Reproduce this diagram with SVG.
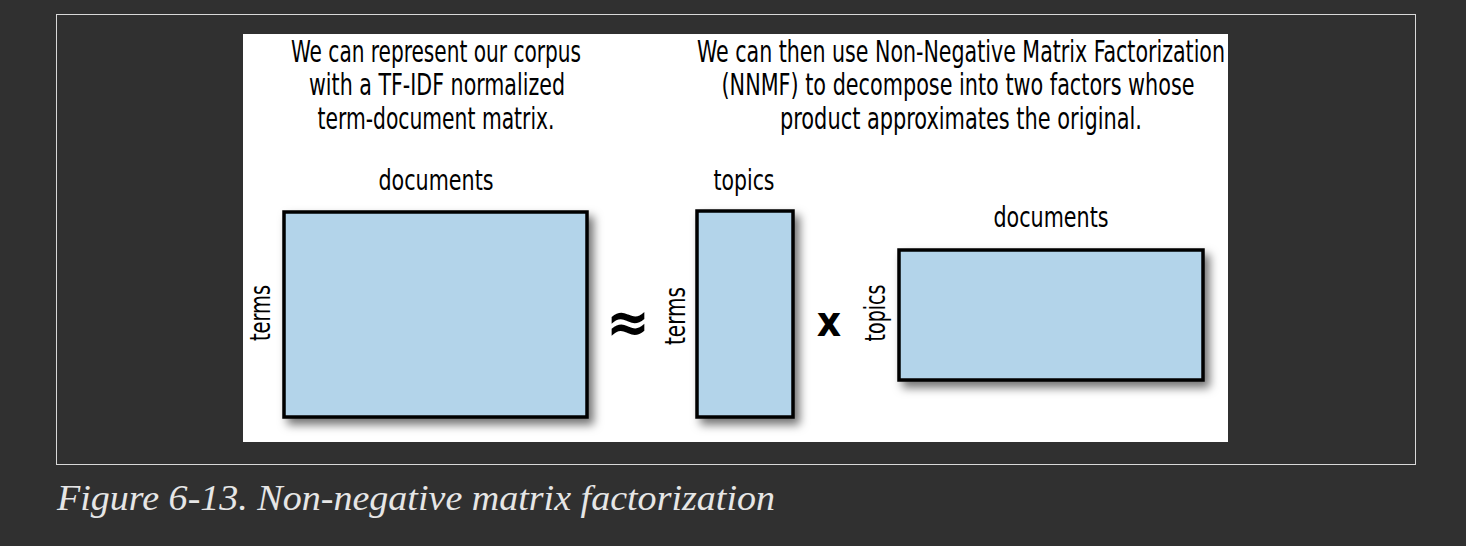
<svg xmlns="http://www.w3.org/2000/svg" width="1466" height="546" viewBox="0 0 1466 546">
<style>
.t{font-family:"Liberation Sans Narrow","DejaVu Sans Condensed","Liberation Sans",sans-serif;fill:#000;text-anchor:middle}
.h{font-size:30px}
.l{font-size:28px}
.m{fill:#b3d4ea;stroke:#000;stroke-width:3.5}
.cap{font-family:"Liberation Serif","Times New Roman",serif;font-style:italic;font-size:36px;fill:#e6e6e6}
</style>
<defs>
<filter id="sh" x="-10%" y="-10%" width="130%" height="130%">
<feDropShadow dx="5" dy="6" stdDeviation="5" flood-color="#000" flood-opacity="0.55"/>
</filter>
</defs>
<rect width="1466" height="546" fill="#303030"/>
<rect x="56.5" y="14.5" width="1359" height="450" fill="none" stroke="#d8d8d8" stroke-width="1"/>
<rect x="243" y="34" width="985" height="408" fill="#fff"/>
<g id="caption">
<text class="cap" x="57" y="510" textLength="718" lengthAdjust="spacingAndGlyphs">Figure 6-13. Non-negative matrix factorization</text>
</g>
<g id="text-left">
<text class="t h" x="436" y="62" textLength="290" lengthAdjust="spacingAndGlyphs">We can represent our corpus</text>
<text class="t h" x="437" y="95" textLength="256" lengthAdjust="spacingAndGlyphs">with a TF-IDF normalized</text>
<text class="t h" x="436" y="129" textLength="237" lengthAdjust="spacingAndGlyphs">term-document matrix.</text>
</g>
<g id="text-right">
<text class="t h" x="961" y="62" textLength="528" lengthAdjust="spacingAndGlyphs">We can then use Non-Negative Matrix Factorization</text>
<text class="t h" x="958" y="95" textLength="473" lengthAdjust="spacingAndGlyphs">(NNMF) to decompose into two factors whose</text>
<text class="t h" x="961" y="129" textLength="362" lengthAdjust="spacingAndGlyphs">product approximates the original.</text>
</g>
<g id="matrix-tdm">
<rect class="m" x="284" y="212" width="303" height="205" filter="url(#sh)"/>
<text class="t l" x="436" y="190" textLength="115" lengthAdjust="spacingAndGlyphs">documents</text>
<text class="t l" transform="translate(270,313) rotate(-90)" textLength="56" lengthAdjust="spacingAndGlyphs">terms</text>
</g>
<g id="approx">
<text class="t" x="628" y="342" style="font-size:58px;font-weight:bold">≈</text>
</g>
<g id="matrix-terms-topics">
<rect class="m" x="697" y="211" width="96" height="206" filter="url(#sh)"/>
<text class="t l" x="744" y="190" textLength="61" lengthAdjust="spacingAndGlyphs">topics</text>
<text class="t l" transform="translate(685,316) rotate(-90)" textLength="58" lengthAdjust="spacingAndGlyphs">terms</text>
</g>
<g id="times">
<text class="t" x="829" y="336" style="font-size:42px;font-weight:bold">x</text>
</g>
<g id="matrix-topics-docs">
<rect class="m" x="899" y="250" width="304" height="130" filter="url(#sh)"/>
<text class="t l" x="1051" y="227" textLength="115" lengthAdjust="spacingAndGlyphs">documents</text>
<text class="t l" transform="translate(885,313) rotate(-90)" textLength="57" lengthAdjust="spacingAndGlyphs">topics</text>
</g>
</svg>
